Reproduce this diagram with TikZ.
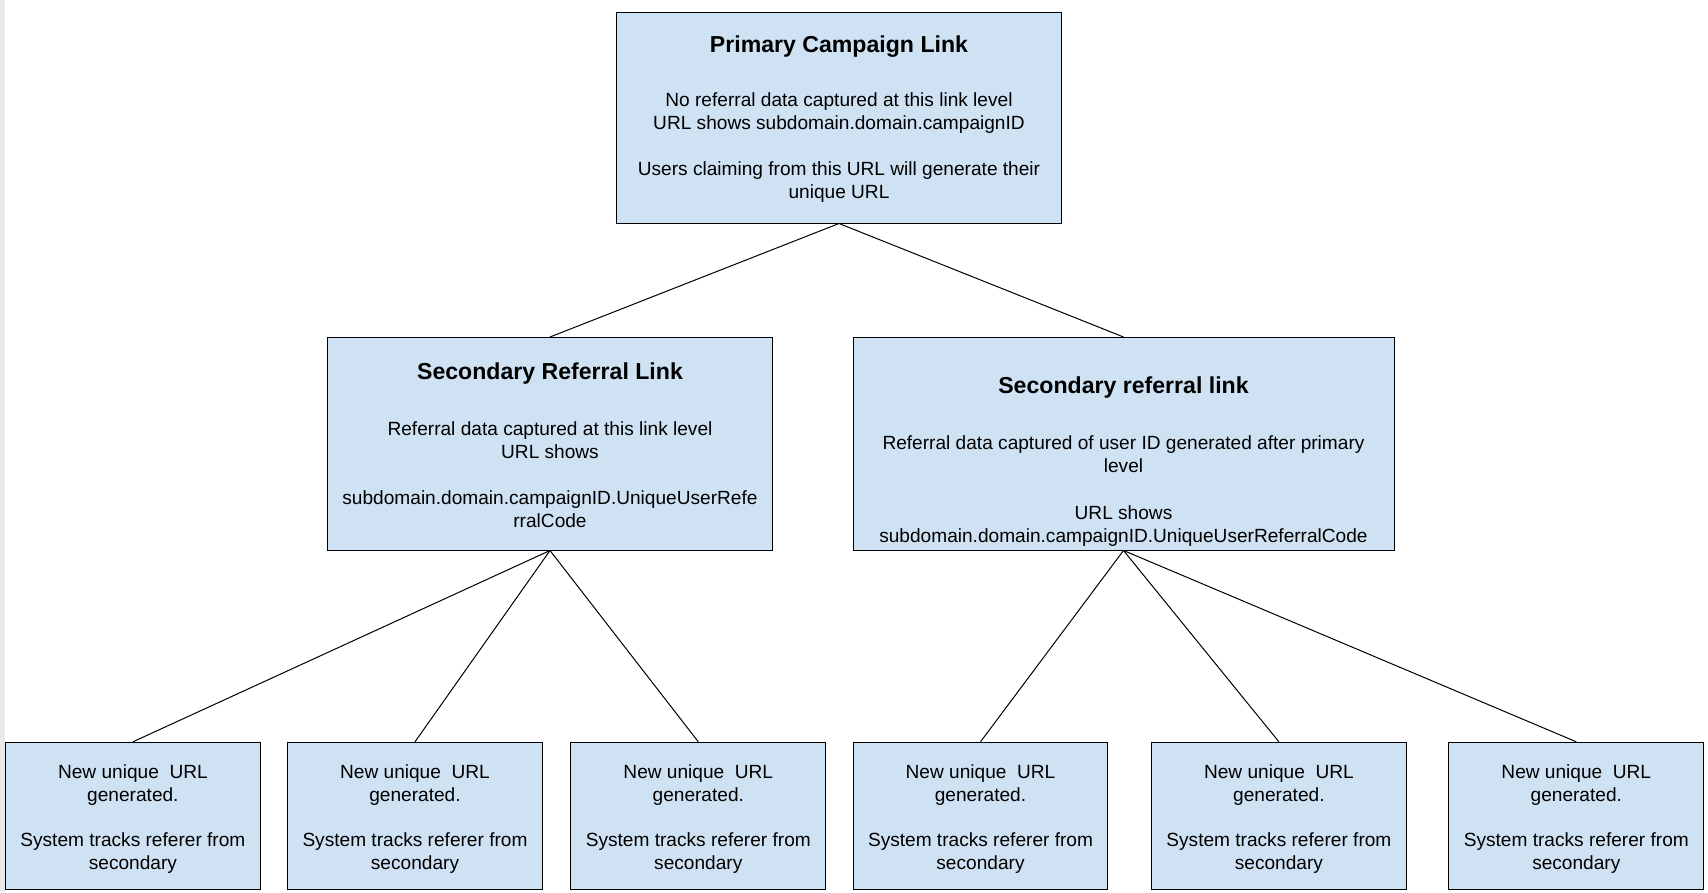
\documentclass[tikz,border=0pt]{standalone}
\usepackage{fontspec}
\setmainfont{Liberation Sans}
\definecolor{boxblue}{HTML}{CFE2F3}
\definecolor{stripgray}{HTML}{E9E9E9}
\begin{document}
\begin{tikzpicture}[x=1pt,y=-1pt,
  box/.style={draw=black, line width=1pt, fill=boxblue, inner sep=0pt, rectangle},
  bigbox/.style={box, minimum width=445.4pt, minimum height=212.5pt},
  widebox/.style={box, minimum width=541pt, minimum height=212.5pt},
  leaf/.style={box, minimum width=254.9pt, minimum height=147pt},
  ttl/.style={anchor=base, inner sep=0pt, font=\fontsize{23.1}{27}\selectfont\bfseries},
  body/.style={anchor=base, inner sep=0pt, font=\fontsize{19.1}{23}\selectfont},
  conn/.style={draw=black, line width=1pt}]
\useasboundingbox (0,0) rectangle (1708,892);
\fill[stripgray] (0,0) rectangle (4.5,892);

% boxes
\node[box, minimum width=445.4pt, minimum height=211pt] (top) at (839,117.5) {};
\node[bigbox] (secL) at (550,443.75) {};
\node[widebox] (secR) at (1123.5,443.75) {};
\node[leaf] (l1) at (132.9,815.8) {};
\node[leaf] (l2) at (415,815.8) {};
\node[leaf] (l3) at (698.3,815.8) {};
\node[leaf] (l4) at (980.5,815.8) {};
\node[leaf] (l5) at (1278.9,815.8) {};
\node[leaf] (l6) at (1576.3,815.8) {};

% connectors
\draw[conn] (top.south) -- (secL.north);
\draw[conn] (top.south) -- (secR.north);
\draw[conn] (secL.south) -- (l1.north);
\draw[conn] (secL.south) -- (l2.north);
\draw[conn] (secL.south) -- (l3.north);
\draw[conn] (secR.south) -- (l4.north);
\draw[conn] (secR.south) -- (l5.north);
\draw[conn] (secR.south) -- (l6.north);

% texts
\node[ttl] (topT) at (839,52) {Primary Campaign Link};
\node[body] (topB) at (839,106.9) {\begin{tabular}[t]{@{}c@{}}No referral data captured at this link level\\ URL shows subdomain.domain.campaignID\\[22.5pt] Users claiming from this URL will generate their\\ unique URL\end{tabular}};

\node[ttl] (secLT) at (550,379.3) {Secondary Referral Link};
\node[body] (secLB) at (550,435) {\begin{tabular}[t]{@{}c@{}}Referral data captured at this link level\\ URL shows\\[23.5pt] subdomain.domain.campaignID.UniqueUserRefe\\ rralCode\end{tabular}};

\node[ttl] (secRT) at (1123.5,393.3) {Secondary referral link};
\node[body] (secRB) at (1123.5,449.3) {\begin{tabular}[t]{@{}c@{}}Referral data captured of user ID generated after primary\\ level\\[24pt] URL shows\\ subdomain.domain.campaignID.UniqueUserReferralCode\end{tabular}};

\foreach \n in {l1,l2,l3,l4,l5,l6}{
  \node[body] (\n T) at ([yshift=-36.4pt]\n.north) {\begin{tabular}[t]{@{}c@{}}New unique\ \ URL\\ generated.\\[22.5pt] System tracks referer from\\ secondary\end{tabular}};
}
\end{tikzpicture}
\end{document}
